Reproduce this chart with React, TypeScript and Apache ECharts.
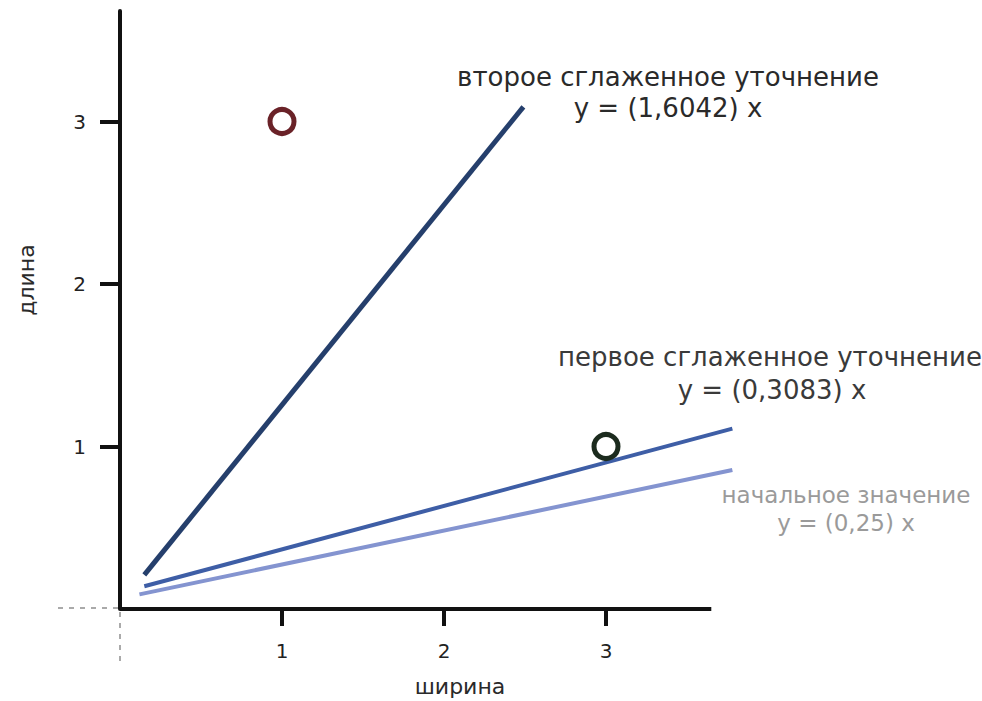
import React, { useEffect, useRef } from "react";
import * as echarts from "echarts";

// Data (axis units)
const xTicks = [1, 2, 3];
const yTicks = [1, 2, 3];
const secondRefine: [number, number][] = [[0.15, 0.21], [2.49, 3.09]];
const firstRefine: [number, number][] = [[0.15, 0.14], [3.78, 1.11]];
const initialValue: [number, number][] = [[0.12, 0.09], [3.78, 0.855]];
const redPoint: [number, number][] = [[1, 3]];
const greenPoint: [number, number][] = [[3, 1]];
const xAxisExtent: [number, number] = [0, 3.65];

const labels = {
  second: ["второе сглаженное уточнение", "y = (1,6042) x"],
  first: ["первое сглаженное уточнение", "y = (0,3083) x"],
  initial: ["начальное значение", "y = (0,25) x"],
  xName: "ширина",
  yName: "длина",
};

const FONT = "'DejaVu Sans', 'Noto Sans', sans-serif";

export default function App() {
  const ref = useRef<HTMLDivElement>(null);
  useEffect(() => {
    if (!ref.current) return;
    const chart = echarts.init(ref.current, null, { renderer: "svg" });
    const text = (x: number, y: number, t: string, color: string, size: number, extra: any = {}) => ({
      type: "text",
      x,
      y,
      z: 10,
      ...extra,
      style: {
        text: t,
        fill: color,
        font: `${size}px ${FONT}`,
        textAlign: "center",
        textVerticalAlign: "middle",
      },
    });
    chart.setOption({
      animation: false,
      backgroundColor: "#fff",
      grid: { left: 120, top: 11, width: 615.6, height: 598, containLabel: false },
      xAxis: {
        type: "value",
        position: "bottom",
        min: 0,
        max: 3.8,
        interval: 1,
        splitLine: { show: false },
        axisLine: { show: true, onZero: false, lineStyle: { color: "rgba(0,0,0,0)", width: 1 } },
        axisTick: { show: false },
        axisLabel: {
          margin: 32,
          color: "#222",
          fontSize: 20,
          fontFamily: FONT,
          showMinLabel: false,
          showMaxLabel: false,
          formatter: (v: number) => (xTicks.includes(v) ? String(v) : ""),
        },
      },
      yAxis: {
        type: "value",
        min: 0,
        max: 3.68,
        interval: 1,
        splitLine: { show: false },
        axisLine: { show: true, lineStyle: { color: "#111", width: 4 } },
        axisTick: { show: true, length: 20, lineStyle: { color: "#111", width: 4 } },
        axisLabel: {
          margin: 34,
          color: "#222",
          fontSize: 20,
          fontFamily: FONT,
          showMinLabel: false,
          showMaxLabel: false,
          formatter: (v: number) => (yTicks.includes(v) ? String(v) : ""),
        },
      },
      series: [
        {
          name: labels.initial[0],
          type: "line",
          data: initialValue,
          clip: false,
          symbol: "none",
          lineStyle: { color: "#8494d0", width: 4 },
          z: 2,
          markLine: {
            silent: true,
            symbol: "none",
            label: { show: false },
            lineStyle: { color: "#111", width: 4, type: "solid" },
            data: [[{ coord: [xAxisExtent[0], 0] }, { coord: [xAxisExtent[1], 0] }]],
          },
        },
        {
          name: labels.first[0],
          type: "line",
          data: firstRefine,
          clip: false,
          symbol: "none",
          lineStyle: { color: "#3e5ea6", width: 4 },
          z: 3,
        },
        {
          name: labels.second[0],
          type: "line",
          data: secondRefine,
          clip: false,
          symbol: "none",
          lineStyle: { color: "#253f6c", width: 5 },
          z: 4,
        },
        {
          type: "scatter",
          data: redPoint,
          symbol: "circle",
          symbolSize: 24,
          itemStyle: { color: "rgba(0,0,0,0)", borderColor: "#6a2228", borderWidth: 5, opacity: 1 },
          z: 5,
        },
        {
          type: "scatter",
          data: greenPoint,
          symbol: "circle",
          symbolSize: 24,
          itemStyle: { color: "rgba(0,0,0,0)", borderColor: "#1c2b1e", borderWidth: 5, opacity: 1 },
          z: 5,
        },
      ],
    });

    // x-axis tick marks, positioned through the axis scale
    const y0 = chart.convertToPixel({ yAxisIndex: 0 }, 0) as number;
    const tickMarks = xTicks.map((v) => {
      const px = chart.convertToPixel({ xAxisIndex: 0 }, v) as number;
      return {
        type: "line",
        shape: { x1: px, y1: y0, x2: px, y2: y0 + 17 },
        style: { stroke: "#111", lineWidth: 4 },
        z: 6,
      };
    });

    chart.setOption({
      graphic: [
        {
          type: "line",
          shape: { x1: 58, y1: 608, x2: 150, y2: 608 },
          style: { stroke: "#aaa", lineWidth: 2, lineDash: [5, 6] },
          z: 0,
        },
        {
          type: "line",
          shape: { x1: 120, y1: 612, x2: 120, y2: 662 },
          style: { stroke: "#aaa", lineWidth: 2, lineDash: [5, 6] },
          z: 0,
        },
        ...tickMarks,
        text(668, 77, labels.second[0], "#2a2a2a", 26),
        text(668, 108, labels.second[1], "#2a2a2a", 26),
        text(770, 357, labels.first[0], "#3a3a3a", 26),
        text(772, 390, labels.first[1], "#3a3a3a", 26),
        text(846, 495, labels.initial[0], "#9a9a9a", 23),
        text(846, 523, labels.initial[1], "#9a9a9a", 23),
        text(460, 686, labels.xName, "#2a2a2a", 22),
        text(26, 280, labels.yName, "#2a2a2a", 22, { rotation: Math.PI / 2 }),
      ],
    });
    return () => chart.dispose();
  }, []);
  return (
    <div
      ref={ref}
      style={{ position: "absolute", left: 0, top: 0, width: 982, height: 701, background: "#fff" }}
    />
  );
}
